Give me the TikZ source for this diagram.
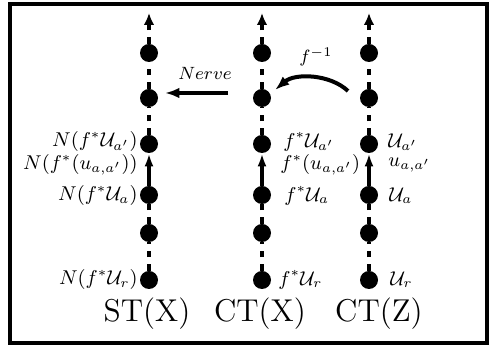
\documentclass[tikz,border=0pt]{standalone}
\usetikzlibrary{arrows.meta}
\begin{document}
\begin{tikzpicture}[x=0.45pt,y=-0.45pt,
  dot/.style={circle,fill=black,inner sep=0pt,minimum size=8.1pt},
  dashline/.style={line width=1.6pt,dash pattern=on 3pt off 3pt},
  dashup/.style={dashline,-{Latex[length=5.4pt,width=4.8pt]}},
  solidup/.style={line width=1.6pt,-{Latex[length=5.8pt,width=4pt]}},
  maparrow/.style={line width=1.8pt,-{Latex[length=6.5pt,width=4.8pt]}},
  lbl/.style={inner sep=0pt,font=\fontsize{8.6}{10}\selectfont},
  maplbl/.style={inner sep=0pt,font=\fontsize{8.4}{10}\selectfont},
  title/.style={font=\fontsize{14.2}{16}\selectfont,anchor=base,inner sep=0pt}]
\useasboundingbox (0,0) rectangle (493,348);
\draw[line width=1.6pt] (10,4) rectangle (487,343);
\foreach \c/\x in {s/149,c/262,z/369}{
  \foreach \i/\y in {1/280,2/233,3/195,4/144,5/98,6/53}{
    \node[dot] (\c\i) at (\x,\y) {};
  }
  \coordinate (\c top) at (\x,13);
}
\foreach \c in {s,c,z}{
  \draw[dashline] (\c1) -- (\c2);
  \draw[dashline] (\c2) -- (\c3);
  \draw[solidup] (\c3) -- (\c4);
  \draw[dashline] (\c4) -- (\c5);
  \draw[dashline] (\c5) -- (\c6);
  \draw[dashup] (\c6) -- (\c top);
}
% left labels
\node[lbl,anchor=east] (ls4) at (138,142) {$N(f^*\mathcal{U}_{a'})$};
\node[lbl,anchor=east] (lsu) at (138,165) {$N(f^*(u_{a,a'}))$};
\node[lbl,anchor=east] (ls3) at (138,196) {$N(f^*\mathcal{U}_a)$};
\node[lbl,anchor=east] (ls1) at (138,280) {$N(f^*\mathcal{U}_r)$};
% CT(X) labels
\node[lbl,anchor=west] (lc4) at (283,142) {$f^*\mathcal{U}_{a'}$};
\node[lbl,anchor=west] (lcu) at (280,165) {$f^*(u_{a,a'})$};
\node[lbl,anchor=west] (lc3) at (284,196) {$f^*\mathcal{U}_a$};
\node[lbl,anchor=west] (lc1) at (278,280) {$f^*\mathcal{U}_r$};
% CT(Z) labels
\node[lbl,anchor=west] (lz4) at (388,142) {$\mathcal{U}_{a'}$};
\node[lbl,anchor=west] (lzu) at (388,165) {$u_{a,a'}$};
\node[lbl,anchor=west] (lz3) at (389,196) {$\mathcal{U}_a$};
\node[lbl,anchor=west] (lz1) at (390,280) {$\mathcal{U}_r$};
% maps
\coordinate (nA) at (228,93);
\coordinate (nB) at (165,93);
\draw[maparrow] (nA) -- (nB);
\node[maplbl] (nerve) at (205,73) {$Nerve$};
\coordinate (fA) at (348,91);
\coordinate (fB) at (275,90);
\draw[maparrow] (fA) .. controls (330,74) and (295,73) .. (fB);
\node[maplbl] (finv) at (316,57) {$f^{-1}$};
% titles
\node[title] (tS) at (147,322) {ST(X)};
\node[title] (tC) at (260,322) {CT(X)};
\node[title] (tZ) at (379,322) {CT(Z)};
\end{tikzpicture}
\end{document}
